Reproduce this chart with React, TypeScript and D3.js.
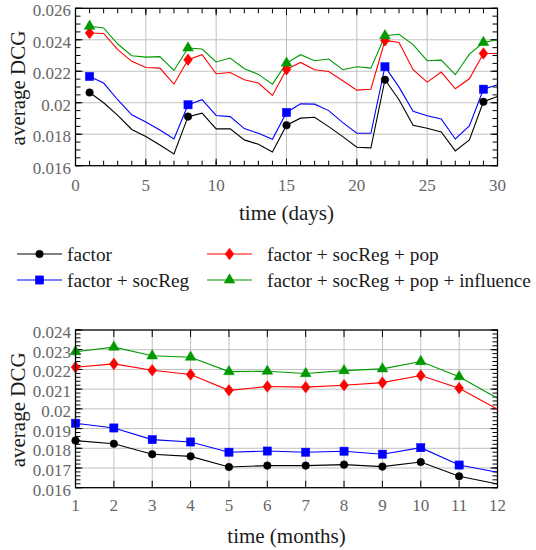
import React from "react";
import * as d3 from "d3";

const W = 536;
const H = 550;
const FONT = "Liberation Serif, DejaVu Serif, Times New Roman, serif";

// ---------- data ----------
const days = [1, 2, 3, 4, 5, 6, 7, 8, 9, 10, 11, 12, 13, 14, 15, 16, 17, 18, 19, 20, 21, 22, 23, 24, 25, 26, 27, 28, 29, 30];
const factorDays = [0.02065, 0.0200, 0.0192, 0.0183, 0.01785, 0.01732, 0.01675, 0.01912, 0.01934, 0.01834, 0.01834, 0.01764, 0.01736, 0.01687, 0.01857, 0.01902, 0.01908, 0.01848, 0.01785, 0.01717, 0.01713, 0.02146, 0.02019, 0.01857, 0.01838, 0.01815, 0.01694, 0.01764, 0.02006, 0.0204];
const socRegDays = [0.02167, 0.02125, 0.02019, 0.01923, 0.01878, 0.01827, 0.0177, 0.01987, 0.02019, 0.01919, 0.01912, 0.01836, 0.01806, 0.01768, 0.01938, 0.01993, 0.01991, 0.0195, 0.01874, 0.01806, 0.01806, 0.02229, 0.02099, 0.01946, 0.01917, 0.01897, 0.0177, 0.01853, 0.02086, 0.02114];
const popDays = [0.02443, 0.0244, 0.02337, 0.02263, 0.02224, 0.0222, 0.02118, 0.02273, 0.02305, 0.02184, 0.02192, 0.02146, 0.02125, 0.02046, 0.02212, 0.02256, 0.0221, 0.02199, 0.0214, 0.0208, 0.02086, 0.02396, 0.02383, 0.0221, 0.02131, 0.02195, 0.02089, 0.02152, 0.02313, 0.02313];
const influenceDays = [0.02486, 0.02475, 0.02373, 0.02299, 0.0229, 0.02293, 0.02205, 0.02348, 0.02341, 0.02259, 0.02284, 0.02216, 0.0218, 0.02118, 0.02252, 0.02305, 0.02267, 0.02278, 0.0221, 0.02229, 0.0222, 0.02426, 0.02435, 0.02369, 0.02267, 0.02271, 0.02178, 0.02309, 0.02383, 0.024];
const dayMarkers = [1, 8, 15, 22, 29];

const months = [1, 2, 3, 4, 5, 6, 7, 8, 9, 10, 11, 12];
const factorMonths = [0.01839, 0.01823, 0.0177, 0.01759, 0.01705, 0.01712, 0.01712, 0.01717, 0.01707, 0.0173, 0.01658, 0.01619];
const socRegMonths = [0.01927, 0.01903, 0.01844, 0.01832, 0.0178, 0.01786, 0.0178, 0.01785, 0.0177, 0.01803, 0.01715, 0.01678];
const popMonths = [0.02211, 0.02228, 0.02196, 0.02174, 0.02094, 0.02113, 0.0211, 0.0212, 0.02133, 0.02169, 0.02105, 0.01998];
const influenceMonths = [0.0229, 0.02313, 0.02269, 0.02262, 0.02189, 0.02191, 0.02179, 0.02194, 0.02203, 0.0224, 0.02163, 0.02054];
const monthMarkers = [1, 2, 3, 4, 5, 6, 7, 8, 9, 10, 11];

const seriesNames = ["factor", "factor + socReg", "factor + socReg + pop", "factor + socReg + pop + influence"];
const seriesColors = ["#000000", "#0000ff", "#ff0000", "#009900"];
const seriesShapes = ["circle", "square", "diamond", "triangle"];

const dayTicks = [0, 5, 10, 15, 20, 25, 30];
const dayTickLabels = ["0", "5", "10", "15", "20", "25", "30"];
const topYTicks = [0.016, 0.018, 0.02, 0.022, 0.024, 0.026];
const topYTickLabels = ["0.016", "0.018", "0.02", "0.022", "0.024", "0.026"];
const monthTicks = [1, 2, 3, 4, 5, 6, 7, 8, 9, 10, 11, 12];
const monthTickLabels = ["1", "2", "3", "4", "5", "6", "7", "8", "9", "10", "11", "12"];
const botYTicks = [0.016, 0.017, 0.018, 0.019, 0.02, 0.021, 0.022, 0.023, 0.024];
const botYTickLabels = ["0.016", "0.017", "0.018", "0.019", "0.02", "0.021", "0.022", "0.023", "0.024"];

// ---------- components ----------
function Marker({ shape, x, y, color }: { shape: string; x: number; y: number; color: string }) {
  if (shape === "circle") return <circle cx={x} cy={y} r={3.8} fill={color} stroke={color} strokeWidth={0.5} />;
  if (shape === "square") return <rect x={x - 4.1} y={y - 4.1} width={8.2} height={8.2} fill={color} stroke={color} strokeWidth={0.5} />;
  if (shape === "diamond") {
    const a = 4.4, b = 5.8;
    return <path d={`M${x},${y - b}L${x + a},${y}L${x},${y + b}L${x - a},${y}Z`} fill={color} stroke={color} strokeWidth={0.5} />;
  }
  const r = 6.2;
  const h = r * Math.sqrt(3) / 2;
  return <path d={`M${x},${y - r}L${x + h},${y + r / 2}L${x - h},${y + r / 2}Z`} fill={color} stroke={color} strokeWidth={0.5} />;
}

type PanelProps = {
  id: string;
  top: number;
  bottom: number;
  xDomain: [number, number];
  yDomain: [number, number];
  xs: number[];
  series: number[][];
  markerXs: number[];
  xTicks: number[];
  xTickLabels: string[];
  xMinor: number[];
  yTicks: number[];
  yTickLabels: string[];
  yMinor: number[];
  xLabel: string;
  xLabelY: number;
  xTickLabelY: number;
};

function Panel(p: PanelProps) {
  const left = 75.5, right = 497.5;
  const x = d3.scaleLinear().domain(p.xDomain).range([left, right]);
  const y = d3.scaleLinear().domain(p.yDomain).range([p.bottom, p.top]);
  const line = d3.line<[number, number]>().x(d => x(d[0])).y(d => y(d[1]));
  const majLen = 7, minLen = 5;
  const innerXGrid = p.xTicks.filter(t => t > p.xDomain[0] && t < p.xDomain[1]);
  const innerYGrid = p.yTicks.filter(t => t > p.yDomain[0] && t < p.yDomain[1]);
  return (
    <g>
      <defs>
        <clipPath id={p.id}>
          <rect x={left} y={p.top} width={right - left} height={p.bottom - p.top} />
        </clipPath>
      </defs>
      {innerXGrid.map(t => (
        <line key={"gx" + t} x1={x(t)} x2={x(t)} y1={p.top} y2={p.bottom} stroke="#c0c0c0" strokeWidth={1} />
      ))}
      {innerYGrid.map(t => (
        <line key={"gy" + t} x1={left} x2={right} y1={y(t)} y2={y(t)} stroke="#c0c0c0" strokeWidth={1} />
      ))}
      {p.xMinor.map(t => (
        <g key={"mx" + t}>
          <line x1={x(t)} x2={x(t)} y1={p.bottom} y2={p.bottom - minLen} stroke="#000" strokeWidth={1} />
          <line x1={x(t)} x2={x(t)} y1={p.top} y2={p.top + minLen} stroke="#000" strokeWidth={1} />
        </g>
      ))}
      {p.xTicks.map(t => (
        <g key={"tx" + t}>
          <line x1={x(t)} x2={x(t)} y1={p.bottom} y2={p.bottom - majLen} stroke="#000" strokeWidth={1} />
          <line x1={x(t)} x2={x(t)} y1={p.top} y2={p.top + majLen} stroke="#000" strokeWidth={1} />
        </g>
      ))}
      {p.yMinor.map(t => (
        <g key={"my" + t}>
          <line x1={left} x2={left + minLen} y1={y(t)} y2={y(t)} stroke="#000" strokeWidth={1} />
          <line x1={right} x2={right - minLen} y1={y(t)} y2={y(t)} stroke="#000" strokeWidth={1} />
        </g>
      ))}
      {p.yTicks.map(t => (
        <g key={"ty" + t}>
          <line x1={left} x2={left + majLen} y1={y(t)} y2={y(t)} stroke="#000" strokeWidth={1} />
          <line x1={right} x2={right - majLen} y1={y(t)} y2={y(t)} stroke="#000" strokeWidth={1} />
        </g>
      ))}
      <g clipPath={`url(#${p.id})`}>
        {p.series.map((vals, i) => (
          <path key={"l" + i} d={line(p.xs.map((xv, j) => [xv, vals[j]] as [number, number])) || ""} fill="none" stroke={seriesColors[i]} strokeWidth={1.1} />
        ))}
      </g>
      {p.series.map((vals, i) => (
        <g key={"m" + i}>
          {p.markerXs.map(mx => {
            const j = p.xs.indexOf(mx);
            return <Marker key={mx} shape={seriesShapes[i]} x={x(mx)} y={y(vals[j])} color={seriesColors[i]} />;
          })}
        </g>
      ))}
      <rect x={left} y={p.top} width={right - left} height={p.bottom - p.top} fill="none" stroke="#000" strokeWidth={1.3} />
      {p.xTicks.map((t, i) => (
        <text key={"lx" + t} x={x(t)} y={p.xTickLabelY} textAnchor="middle" style={{ fontFamily: FONT, fontSize: 17 }} fill="#666">
          {p.xTickLabels[i]}
        </text>
      ))}
      {p.yTicks.map((t, i) => (
        <text key={"ly" + t} x={71} y={y(t) + 8} textAnchor="end" style={{ fontFamily: FONT, fontSize: 17 }} fill="#666">
          {p.yTickLabels[i]}
        </text>
      ))}
      <text x={(left + right) / 2} y={p.xLabelY} textAnchor="middle" style={{ fontFamily: FONT, fontSize: 21 }} fill="#1a1a1a">
        {p.xLabel}
      </text>
      <text transform={`translate(25,${(p.top + p.bottom) / 2 + 1}) rotate(-90)`} textAnchor="middle" style={{ fontFamily: FONT, fontSize: 21 }} fill="#1a1a1a">
        average DCG
      </text>
    </g>
  );
}

function Legend() {
  const cols = [
    { x0: 17, x1: 62, tx: 67 },
    { x0: 207, x1: 252, tx: 267 },
  ];
  const rows = [254, 280];
  const order = [0, 2, 1, 3];
  return (
    <g>
      {order.map((si, k) => {
        const col = cols[k % 2];
        const ry = rows[Math.floor(k / 2)];
        return (
          <g key={si}>
            <line x1={col.x0} x2={col.x1} y1={ry} y2={ry} stroke={seriesColors[si]} strokeWidth={1.1} />
            <Marker shape={seriesShapes[si]} x={(col.x0 + col.x1) / 2} y={ry} color={seriesColors[si]} />
            <text x={col.tx} y={ry + 6.5} style={{ fontFamily: FONT, fontSize: 19.3 }} fill="#1a1a1a">
              {seriesNames[si]}
            </text>
          </g>
        );
      })}
    </g>
  );
}

export default function App() {
  return (
    <svg width={W} height={H} style={{ position: "absolute", left: 0, top: 0, background: "#fff" }}>
      <rect width={W} height={H} fill="#fff" />
      <Panel
        id="clipTop"
        top={8.3}
        bottom={165.7}
        xDomain={[0, 30]}
        yDomain={[0.016, 0.026]}
        xs={days}
        series={[factorDays, socRegDays, popDays, influenceDays]}
        markerXs={dayMarkers}
        xTicks={dayTicks}
        xTickLabels={dayTickLabels}
        xMinor={d3.range(0, 31, 1)}
        yTicks={topYTicks}
        yTickLabels={topYTickLabels}
        yMinor={d3.range(0, 21).map(i => 0.016 + i * 0.0005)}
        xLabel="time (days)"
        xLabelY={220}
        xTickLabelY={191}
      />
      <Legend />
      <Panel
        id="clipBot"
        top={330}
        bottom={487.7}
        xDomain={[1, 12]}
        yDomain={[0.016, 0.024]}
        xs={months}
        series={[factorMonths, socRegMonths, popMonths, influenceMonths]}
        markerXs={monthMarkers}
        xTicks={monthTicks}
        xTickLabels={monthTickLabels}
        xMinor={[]}
        yTicks={botYTicks}
        yTickLabels={botYTickLabels}
        yMinor={d3.range(0, 41).map(i => 0.016 + i * 0.0002)}
        xLabel="time (months)"
        xLabelY={543}
        xTickLabelY={511}
      />
    </svg>
  );
}
